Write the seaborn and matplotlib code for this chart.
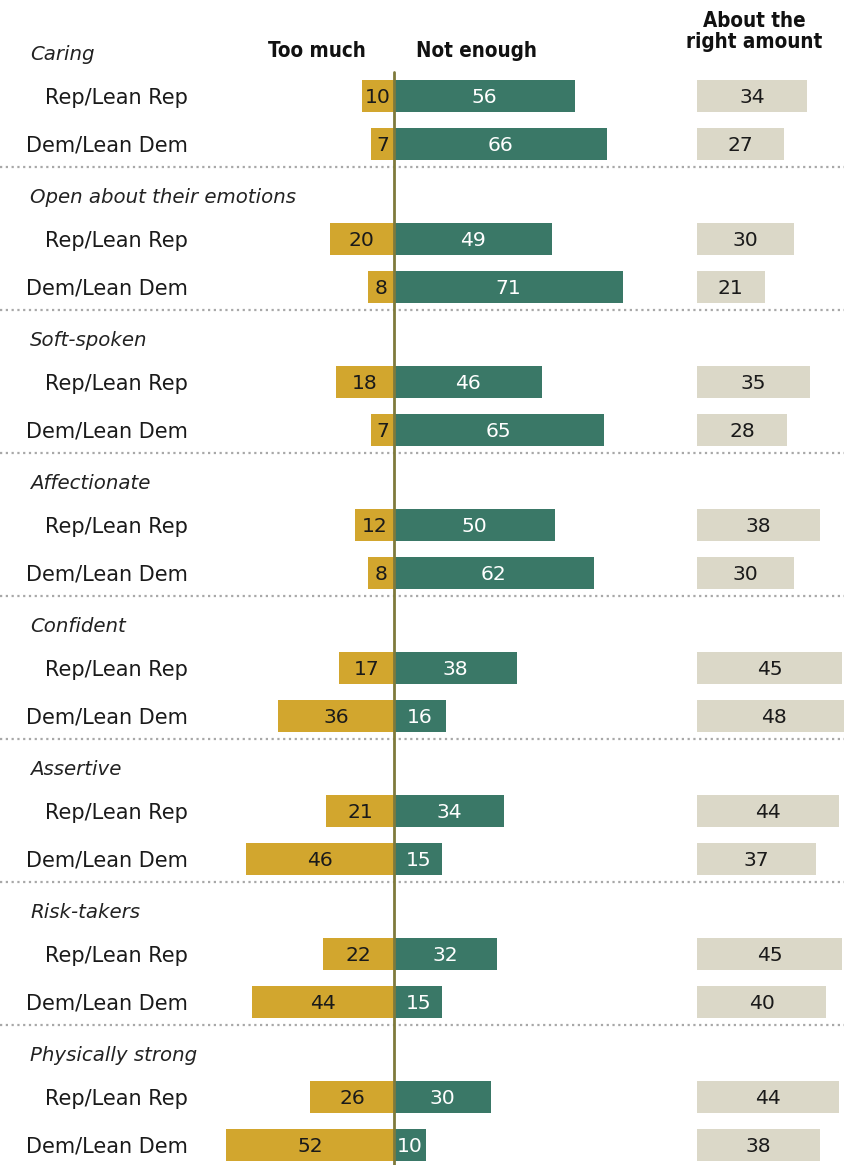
import numpy as np
import pandas as pd
import matplotlib
matplotlib.use("Agg")
import matplotlib.pyplot as plt
import matplotlib.transforms as mtransforms
import seaborn as sns

# ---- data -------------------------------------------------------------
traits = ["Caring", "Open about their emotions", "Soft-spoken", "Affectionate",
          "Confident", "Assertive", "Risk-takers", "Physically strong"]
groups = ["Rep/Lean Rep", "Dem/Lean Dem"]
too_much_rep = [10, 20, 18, 12, 17, 21, 22, 26]
too_much_dem = [7, 8, 7, 8, 36, 46, 44, 52]
not_enough_rep = [56, 49, 46, 50, 38, 34, 32, 30]
not_enough_dem = [66, 71, 65, 62, 16, 15, 15, 10]
right_rep = [34, 30, 35, 38, 45, 44, 45, 44]
right_dem = [27, 21, 28, 30, 48, 37, 40, 38]
col_headers = ["Too much", "Not enough", "About the\nright amount"]

# ---- styling ----------------------------------------------------------
sns.set_theme(style="white")
plt.rcParams["font.family"] = ["DejaVu Sans"]
GOLD = "#D2A62E"
GREEN = "#3A7867"
BEIGE = "#DBD8C8"
AXIS_OLIVE = "#7F7A3C"

W, H = 844, 1165
fig = plt.figure(figsize=(W / 100, H / 100), dpi=100)

# one title row + two group rows per trait
order = []
rows = []
for i, t in enumerate(traits):
    order.append(f"{i}-title")
    for g, tm, ne, ra in ((groups[0], too_much_rep, not_enough_rep, right_rep),
                          (groups[1], too_much_dem, not_enough_dem, right_dem)):
        key = f"{i}-{g}"
        order.append(key)
        rows.append({"row": key, "trait": t, "group": g,
                     "too_much": tm[i], "not_enough": ne[i], "right": ra[i]})
bars = pd.DataFrame(rows)
bars["too_much_neg"] = -bars["too_much"]

# pixel layout helpers
ROW_STEP = 143.0 / 3
ROW0_PX = 96.0 - ROW_STEP
CENTER_PX, UNIT_PX = 394.0, 3.225
RIGHT_PX = 697.0


def row_of(px):
    return (px - ROW0_PX) / ROW_STEP


ylim = (row_of(H), row_of(0))

ax = fig.add_axes([0, 0, 1, 1])
ax_r = fig.add_axes([RIGHT_PX / W, 0, (W - RIGHT_PX) / W, 1])

bar_kw = dict(y="row", order=order, orient="h", errorbar=None,
              width=0.67, saturation=1, linewidth=0)
sns.barplot(data=bars, x="too_much_neg", color=GOLD, ax=ax, **bar_kw)
sns.barplot(data=bars, x="not_enough", color=GREEN, ax=ax, **bar_kw)
sns.barplot(data=bars, x="right", color=BEIGE, ax=ax_r, **bar_kw)

for a in (ax, ax_r):
    a.set_ylim(*ylim)
    a.axis("off")
ax.set_xlim(-CENTER_PX / UNIT_PX, (W - CENTER_PX) / UNIT_PX)
ax_r.set_xlim(0, (W - RIGHT_PX) / UNIT_PX)

# text is placed on its baseline so capitals sit centred on each bar
num_fs = 14.6
label_fs = 15
title_fs = 14.2
def cap_half(fs):
    return 0.729 * fs * 100 / 72 / 2 / ROW_STEP   # half cap height, in rows

pos = {k: i for i, k in enumerate(order)}
for _, r in bars.iterrows():
    y = pos[r["row"]] + cap_half(num_fs)
    ax.text(-r["too_much"] / 2, y, f"{r['too_much']}", ha="center", va="baseline",
            fontsize=num_fs, color="#1a1a1a")
    ax.text(r["not_enough"] / 2, y, f"{r['not_enough']}", ha="center",
            va="baseline", fontsize=num_fs, color="white")
    ax_r.text(r["right"] / 2, y, f"{r['right']}", ha="center", va="baseline",
              fontsize=num_fs, color="#1a1a1a")

# row and trait labels
tr = mtransforms.blended_transform_factory(fig.transFigure, ax.transData)
for i, t in enumerate(traits):
    ax.text(30 / W, pos[f"{i}-title"] + 4.5 / ROW_STEP + cap_half(title_fs), t,
            transform=tr, ha="left", va="baseline", fontsize=title_fs,
            style="italic", color="#222222")
    for g in groups:
        ax.text(188 / W, pos[f"{i}-{g}"] + 0.6 / ROW_STEP + cap_half(label_fs), g,
                transform=tr, ha="right", va="baseline", fontsize=label_fs,
                color="#1a1a1a")
    if i < len(traits) - 1:
        ysep = pos[f"{i}-{groups[1]}"] + 0.49
        ax.plot([-CENTER_PX / UNIT_PX, (W - CENTER_PX) / UNIT_PX], [ysep, ysep],
                color="#a8a8a8", lw=1.6, ls=(0, (1, 1.6)), solid_capstyle="butt",
                clip_on=False, zorder=1)

# zero line
ax.plot([0, 0], [row_of(72), row_of(H)], color=AXIS_OLIVE, lw=2, zorder=5,
        clip_on=False)

# column headers
hdr = dict(fontsize=14.8, fontweight="bold", family="DejaVu Sans",
           fontstretch="condensed", color="#111111", va="baseline")
fig.text(317 / W, 1 - 57 / H, col_headers[0], ha="center", **hdr)
fig.text(476 / W, 1 - 57 / H, col_headers[1], ha="center", **hdr)
fig.text(754 / W, 1 - 48 / H, col_headers[2], ha="center", multialignment="center",
         linespacing=1.05, **hdr)

fig.savefig("out.png", dpi=100, facecolor="white")
